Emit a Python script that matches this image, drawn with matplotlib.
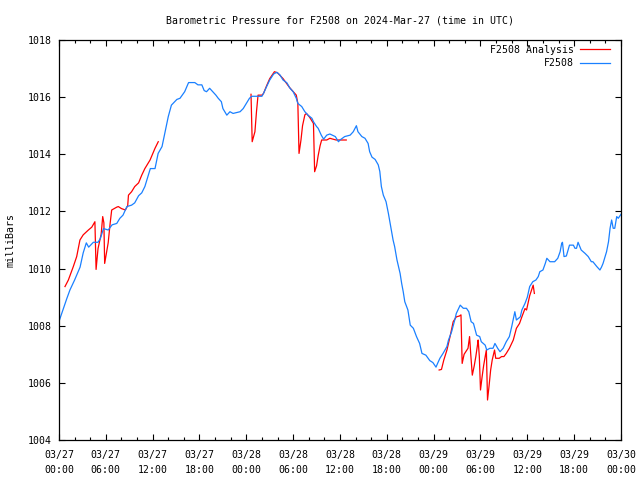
import numpy as np
import matplotlib
matplotlib.use('Agg')
import matplotlib.pyplot as plt
import matplotlib.dates as mdates

# hours since 2024-03-27 00:00 UTC
blue_hours = [0, 0.5, 1.0, 1.4, 2.0, 2.7, 3.1, 3.5, 3.8, 4.4, 5.0, 5.3, 5.7, 6.3, 6.8,
              7.4, 7.8, 8.2, 8.7, 9.3, 9.7, 10.2, 10.6, 11.0, 11.7, 12.3, 12.7, 13.2, 13.6, 14.0,
              14.4, 15.1, 15.5, 16.1, 16.6, 17.4, 17.8, 18.3, 18.6, 18.9, 19.3, 19.7, 20.1, 20.4, 20.8,
              21.0, 21.5, 21.9, 22.3, 23.2, 23.6, 24.0, 24.4, 24.7, 25.0, 25.7, 26.0, 26.2, 26.6, 27.0,
              27.5, 27.9, 28.3, 28.7, 29.2, 29.6, 30.0, 30.4, 30.6, 31.1, 31.5, 31.9, 32.4, 32.6, 33.0,
              33.2, 33.6, 33.9, 34.3, 34.7, 35.4, 35.8, 36.0, 36.6, 37.3, 37.7, 38.1, 38.3, 38.8, 39.2,
              39.6, 39.8, 40.1, 40.5, 40.9, 41.1, 41.3, 41.55, 41.9, 42.2, 42.5, 42.8, 43.0, 43.3, 43.7,
              43.9, 44.1, 44.3, 44.7, 45.0, 45.4, 45.8, 46.2, 46.5, 47.0, 47.5, 47.9, 48.3, 48.5, 48.8,
              49.2, 49.7, 49.9, 50.3, 50.7, 50.9, 51.4, 51.8, 52.2, 52.5, 52.8, 53.1, 53.5, 53.9, 54.1,
              54.6, 54.8, 55.2, 55.6, 55.85, 56.2, 56.5, 56.9, 57.3, 57.7, 58.0, 58.4, 58.6, 59.1, 59.3,
              59.7, 60.0, 60.3, 60.7, 61.1, 61.4, 61.6, 62.0, 62.3, 62.5, 62.9, 63.5, 63.9, 64.2, 64.4,
              64.5, 64.7, 65.0, 65.4, 65.9, 66.1, 66.3, 66.5, 66.9, 67.4, 67.8, 68.2, 68.4, 68.9, 69.3,
              69.5, 69.7, 70.15, 70.4, 70.6, 70.8, 71.0, 71.2, 71.45, 71.65, 72.0]
blue_mb = [1008.15, 1008.55, 1008.95, 1009.25, 1009.6, 1010.05, 1010.55, 1010.9, 1010.75, 1010.92, 1010.92, 1011.05, 1011.4, 1011.35, 1011.53,
           1011.58, 1011.76, 1011.87, 1012.17, 1012.22, 1012.3, 1012.55, 1012.65, 1012.87, 1013.5, 1013.5, 1014.03, 1014.27, 1014.79, 1015.32,
           1015.72, 1015.92, 1015.96, 1016.19, 1016.51, 1016.51, 1016.43, 1016.43, 1016.23, 1016.19, 1016.31, 1016.19, 1016.07, 1015.96, 1015.84,
           1015.6, 1015.37, 1015.49, 1015.43, 1015.49, 1015.6, 1015.78, 1015.96, 1016.03, 1016.03, 1016.03, 1016.03, 1016.13, 1016.37, 1016.6,
           1016.81, 1016.87, 1016.78, 1016.6, 1016.5, 1016.31, 1016.19, 1015.96, 1015.78, 1015.67, 1015.49, 1015.37, 1015.26, 1015.14, 1014.97,
           1014.91, 1014.67, 1014.53, 1014.67, 1014.71, 1014.62, 1014.44, 1014.5, 1014.62, 1014.67, 1014.79, 1015.0, 1014.79, 1014.62, 1014.56,
           1014.38, 1014.09, 1013.9, 1013.82, 1013.63, 1013.4, 1012.87, 1012.57, 1012.34, 1011.93, 1011.47, 1011.0, 1010.77, 1010.3, 1009.83,
           1009.48, 1009.19, 1008.84, 1008.55, 1008.02, 1007.91, 1007.62, 1007.38, 1007.03, 1006.97, 1006.78, 1006.71, 1006.55, 1006.68, 1006.86,
           1007.03, 1007.27, 1007.5, 1007.79, 1008.2, 1008.43, 1008.72, 1008.61, 1008.61, 1008.49, 1008.14, 1008.08, 1007.67, 1007.62, 1007.44,
           1007.32, 1007.15, 1007.21, 1007.21, 1007.38, 1007.21, 1007.09, 1007.21, 1007.44, 1007.62, 1007.97, 1008.49, 1008.2, 1008.31, 1008.55,
           1008.78, 1009.0, 1009.37, 1009.54, 1009.6, 1009.72, 1009.89, 1009.95, 1010.18, 1010.36, 1010.24, 1010.24, 1010.36, 1010.59, 1010.88,
           1010.92, 1010.42, 1010.44, 1010.82, 1010.82, 1010.71, 1010.71, 1010.92, 1010.65, 1010.53, 1010.42, 1010.24, 1010.24, 1010.07, 1009.95,
           1010.05, 1010.18, 1010.59, 1010.94, 1011.41, 1011.7, 1011.41, 1011.41, 1011.82, 1011.76, 1011.9]

# analysis series, nan = gap
red_hours = [0.77, 1.2, 1.84, 2.26, 2.69, 3.1, 3.76, 4.2, 4.6, 4.75, 5.0, 5.4, 5.6, 5.75, 5.85,
             6.3, 6.55, 6.75, 7.4, 7.6, 8.0, 8.5, 8.8, 8.9, 9.3, 9.7, 10.2, 10.6, 11.0, 11.66,
             12.3, 12.72, 18.0,
             24.6, 24.75, 25.1, 25.3, 25.5, 26.0, 26.2, 26.6, 27.0, 27.6, 28.0, 28.7, 29.5, 30.4,
             30.6, 30.75, 31.0, 31.2, 31.5, 31.7, 32.1, 32.6, 32.75, 33.0, 33.2, 33.45, 33.65, 34.3,
             34.7, 35.5, 36.8, 42.0,
             48.7, 49.0, 49.3, 49.7, 50.1, 50.5, 50.9, 51.3, 51.5, 51.65, 51.9, 52.4, 52.6, 52.75,
             52.95, 53.2, 53.4, 53.6, 53.7, 53.85, 54.0, 54.2, 54.4, 54.6, 54.75, 54.9, 55.1, 55.3,
             55.5, 55.8, 55.95, 56.4, 56.7, 57.0, 57.3, 57.7, 58.2, 58.6, 59.0, 59.3, 59.7, 59.9,
             60.3, 60.75, 60.9]
red_mb = [1009.37, 1009.6, 1010.07, 1010.42, 1011.0, 1011.18, 1011.35, 1011.45, 1011.64, 1009.97, 1010.7, 1011.2, 1011.82, 1011.6, 1010.18,
          1010.9, 1011.58, 1012.05, 1012.15, 1012.17, 1012.1, 1012.05, 1012.2, 1012.57, 1012.69, 1012.87, 1013.0, 1013.27, 1013.5, 1013.8,
          1014.21, 1014.44, np.nan,
          1016.1, 1014.44, 1014.79, 1015.49, 1016.07, 1016.07, 1016.13, 1016.4, 1016.65, 1016.89, 1016.85, 1016.65, 1016.35, 1016.07,
          1015.78, 1014.03, 1014.5, 1015.0, 1015.38, 1015.43, 1015.3, 1015.08, 1013.39, 1013.6, 1013.95, 1014.3, 1014.5, 1014.5,
          1014.56, 1014.5, 1014.5, np.nan,
          1006.45, 1006.47, 1006.8, 1007.15, 1007.62, 1008.14, 1008.31, 1008.34, 1008.38, 1006.68, 1007.0, 1007.21, 1007.62, 1007.0,
          1006.27, 1006.6, 1006.92, 1007.3, 1007.5, 1006.92, 1005.75, 1006.2, 1006.6, 1006.92, 1007.15, 1005.4, 1005.9, 1006.45,
          1006.8, 1007.15, 1006.86, 1006.86, 1006.92, 1006.92, 1007.03, 1007.21, 1007.5, 1007.91, 1008.08, 1008.31, 1008.6, 1008.55,
          1009.05, 1009.42, 1009.13]

start = np.datetime64('2024-03-27T00:00')


def to_time(hours):
    mins = np.round(np.array(hours) * 60).astype(int)
    return start + mins.astype('timedelta64[m]')


fs = 7.1
plt.rcParams['font.family'] = 'DejaVu Sans Mono'
plt.rcParams['font.size'] = fs

fig = plt.figure(figsize=(6.4, 4.8), dpi=100)
ax = fig.add_axes([59 / 640, 40 / 480, 562 / 640, 400 / 480])

ax.plot(to_time(red_hours), red_mb, color='#ff0000', lw=0.9, label='F2508 Analysis')
ax.plot(to_time(blue_hours), blue_mb, color='#1a80ff', lw=0.9, label='F2508')

ax.set_xlim(start, start + np.timedelta64(72, 'h'))
ax.set_ylim(1004, 1018)
ax.set_yticks(np.arange(1004, 1019, 2))
ax.yaxis.set_major_formatter(matplotlib.ticker.FormatStrFormatter('%d'))
ax.xaxis.set_major_locator(mdates.HourLocator(byhour=range(0, 24, 6)))
ax.xaxis.set_minor_locator(mdates.HourLocator(byhour=range(0, 24, 2)))
ax.xaxis.set_major_formatter(mdates.DateFormatter('%m/%d\n%H:%M'))
for lbl in ax.get_xticklabels():
    lbl.set_linespacing(1.65)

ax.tick_params(which='both', direction='in', top=True, right=True, width=0.8, labelsize=fs)
ax.tick_params(which='major', length=4, pad=5)
ax.tick_params(which='minor', length=2)
ax.tick_params(axis='x', which='major', pad=7)
for s in ax.spines.values():
    s.set_linewidth(0.9)

ax.set_ylabel('milliBars', labelpad=9, fontsize=fs)
ax.set_title('Barometric Pressure for F2508 on 2024-Mar-27 (time in UTC)', pad=12, fontsize=fs)
ax.legend(loc='upper right', bbox_to_anchor=(0.9875, 0.9975), frameon=False, markerfirst=False,
          handlelength=3.0, handletextpad=0.7, borderaxespad=0, labelspacing=0.35, fontsize=fs)

fig.savefig('out.png', dpi=100)
